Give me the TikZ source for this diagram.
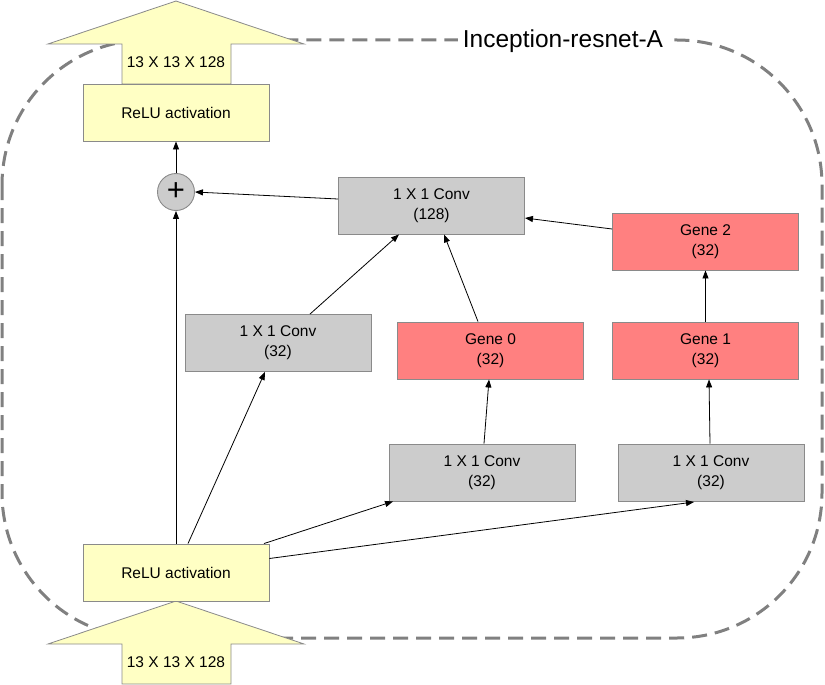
\documentclass[tikz,border=0pt]{standalone}
\usepackage{fontspec}
\setmainfont{Liberation Sans}
\usetikzlibrary{arrows.meta,positioning,calc}
\definecolor{blockyellow}{HTML}{FFFFC4}
\definecolor{blockgray}{HTML}{CCCCCC}
\definecolor{genered}{HTML}{FF8080}
\definecolor{edgegray}{HTML}{8A8A8A}
\definecolor{framegray}{HTML}{808080}

\tikzset{
  block/.style={draw=edgegray, line width=0.9pt, minimum width=186pt, minimum height=57pt,
    align=center, font=\fontsize{15.5}{20}\selectfont, inner sep=0pt},
  relubox/.style={block, fill=blockyellow},
  convbox/.style={block, fill=blockgray},
  genebox/.style={block, fill=genered},
  flow/.style={-{Triangle[length=8pt,width=6pt]}, line width=0.8pt, black},
  bigarrow/.style={draw=edgegray, line width=0.8pt, fill=blockyellow},
}

\begin{document}
\begin{tikzpicture}[x=1pt, y=-1pt]
    \useasboundingbox (0,0) rectangle (825,685);

    % module frame
    \draw[framegray, line width=3pt, dash pattern=on 15pt off 8pt, rounded corners=145pt]
        (2,40) rectangle (822,638);
    \node[fill=white, inner xsep=5pt, inner ysep=2pt, font=\fontsize{24.5}{28}\selectfont]
        (title) at (563,41) {Inception-resnet-A};

    % input and output tensors
    \draw[bigarrow] (176,601) -- (304,644) -- (231,644) -- (231,684)
        -- (122,684) -- (122,644) -- (48,644) -- cycle;
    \node[font=\fontsize{15.5}{18}\selectfont] (tin) at (176,662) {13 X 13 X 128};
    \draw[bigarrow] (176,1) -- (304,44) -- (231,44) -- (231,84)
        -- (122,84) -- (122,44) -- (48,44) -- cycle;
    \node[font=\fontsize{15.5}{18}\selectfont] (tout) at (176,62) {13 X 13 X 128};

    % blocks
    \node[relubox] (relu0) at (176,572.5) {ReLU activation};
    \node[relubox] (relu1) at (176,112.5) {ReLU activation};
    \node[draw=edgegray, fill=blockgray, line width=0.9pt, circle, minimum size=37pt,
        inner sep=0pt, font=\fontsize{31}{31}\selectfont] (plus) at (176,192) {+};
    \node[convbox] (c128) at (431.5,205.5) {1 X 1 Conv\\(128)};
    \node[convbox] (conv32a) at (278,343) {1 X 1 Conv\\(32)};
    \node[convbox] (conv32b) at (482,472.5) {1 X 1 Conv\\(32)};
    \node[convbox] (conv32c) at (711,472.5) {1 X 1 Conv\\(32)};
    \node[genebox] (gene0) at (490.5,350.5) {Gene 0\\(32)};
    \node[genebox] (gene1) at (705.5,350.5) {Gene 1\\(32)};
    \node[genebox] (gene2) at (705.5,241.5) {Gene 2\\(32)};

    % connections
    \draw[flow] (relu0.north) -- (plus.south);
    \draw[flow] (plus.north) -- (relu1.south);
    \draw[flow] ([yshift=6.5pt]c128.west) -- (plus.east);
    \draw[flow] ([xshift=12pt]relu0.north) -- ([xshift=-13pt]conv32a.south);
    \draw[flow] ([xshift=88pt]relu0.north) -- ([xshift=-89pt]conv32b.south);
    \draw[flow, shorten >=4pt] ([yshift=14pt]relu0.east) -- ([xshift=-13pt]conv32c.south);
    \draw[flow] ([xshift=2pt]conv32b.north) -- ([xshift=-1.5pt]gene0.south);
    \draw[flow] ([xshift=-1pt]conv32c.north) -- ([xshift=3.5pt]gene1.south);
    \draw[flow] (gene1.north) -- (gene2.south);
    \draw[flow] ([xshift=32pt]conv32a.north) -- ([xshift=-32.5pt]c128.south);
    \draw[flow] ([xshift=-12.5pt]gene0.north) -- ([xshift=12.5pt]c128.south);
    \draw[flow] ([yshift=12.5pt]gene2.west) -- ([yshift=-12.5pt]c128.east);
\end{tikzpicture}
\end{document}
